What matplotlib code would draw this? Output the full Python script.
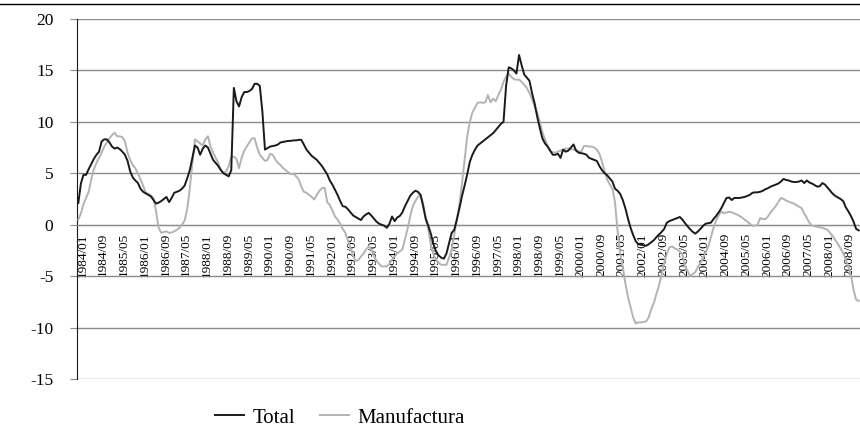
import numpy as np
import matplotlib.pyplot as plt
from matplotlib.lines import Line2D
from matplotlib.transforms import ScaledTranslation

plt.rcParams['font.family'] = ['Liberation Serif', 'DejaVu Serif']
plt.rcParams['axes.unicode_minus'] = False

# monthly series, 1984/01 .. 2009/02 (one row per year)
total = [
    2.1, 4.0, 4.85, 4.85, 5.4, 5.9, 6.4, 6.8, 7.1, 8.1, 8.3, 8.3,
    8.0, 7.6, 7.4, 7.5, 7.35, 7.1, 6.8, 6.2, 5.2, 4.6, 4.3, 4.05,
    3.5, 3.2, 3.05, 2.9, 2.75, 2.4, 2.05, 2.15, 2.3, 2.5, 2.7, 2.2,
    2.6, 3.1, 3.2, 3.3, 3.5, 3.8, 4.5, 5.3, 6.5, 7.7, 7.5, 6.8,
    7.4, 7.7, 7.5, 6.9, 6.3, 6.0, 5.7, 5.3, 5.0, 4.85, 4.7, 5.3,
    13.3, 12.0, 11.5, 12.4, 12.9, 12.9, 13.0, 13.2, 13.7, 13.7, 13.5, 11.0,
    7.3, 7.45, 7.6, 7.65, 7.7, 7.8, 8.0, 8.05, 8.1, 8.15, 8.15, 8.2,
    8.2, 8.25, 8.25, 7.8, 7.3, 7.0, 6.7, 6.5, 6.3, 6.0, 5.7, 5.3,
    4.9, 4.3, 3.9, 3.4, 2.9, 2.3, 1.8, 1.75, 1.5, 1.2, 0.9, 0.75,
    0.6, 0.45, 0.8, 1.0, 1.15, 0.9, 0.6, 0.3, 0.1, 0.0, -0.1, -0.3,
    0.1, 0.8, 0.35, 0.7, 0.85, 1.2, 1.8, 2.3, 2.8, 3.1, 3.3, 3.2,
    2.9, 1.8, 0.6, -0.1, -0.9, -1.9, -2.6, -3.0, -3.2, -3.3, -2.8, -1.8,
    -0.8, -0.5, 0.5, 1.6, 2.8, 3.8, 4.9, 6.1, 6.8, 7.3, 7.7, 7.9,
    8.1, 8.3, 8.5, 8.7, 8.9, 9.2, 9.5, 9.8, 10.0, 13.5, 15.3, 15.2,
    15.0, 14.7, 16.5, 15.5, 14.6, 14.3, 14.0, 12.8, 11.8, 10.5, 9.4, 8.4,
    7.9, 7.6, 7.2, 6.8, 6.8, 6.9, 6.5, 7.3, 7.1, 7.2, 7.5, 7.8,
    7.2, 7.0, 6.95, 6.9, 6.8, 6.5, 6.4, 6.3, 6.2, 5.7, 5.3, 5.0,
    4.8, 4.5, 4.2, 3.5, 3.3, 3.0, 2.4, 1.6, 0.6, -0.3, -1.0, -1.6,
    -1.9, -1.95, -2.0, -2.05, -1.9, -1.7, -1.5, -1.2, -0.95, -0.7, -0.4, 0.2,
    0.35, 0.45, 0.55, 0.65, 0.75, 0.5, 0.15, -0.15, -0.45, -0.7, -0.87, -0.65,
    -0.4, -0.1, 0.1, 0.15, 0.2, 0.55, 0.85, 1.2, 1.6, 2.1, 2.6, 2.65,
    2.4, 2.6, 2.6, 2.6, 2.65, 2.7, 2.8, 2.9, 3.1, 3.15, 3.15, 3.2,
    3.3, 3.45, 3.55, 3.7, 3.8, 3.9, 4.0, 4.2, 4.45, 4.35, 4.3, 4.2,
    4.15, 4.15, 4.2, 4.3, 4.05, 4.3, 4.1, 4.0, 3.85, 3.7, 3.75, 4.05,
    3.9, 3.6, 3.3, 3.0, 2.8, 2.65, 2.5, 2.3, 1.7, 1.3, 0.85, 0.3,
    -0.4, -0.55,
]

manufactura = [
    0.5, 1.1, 2.0, 2.6, 3.2, 4.4, 5.4, 6.0, 6.5, 7.0, 7.6, 8.0,
    8.4, 8.7, 8.95, 8.6, 8.6, 8.5, 8.1, 7.0, 6.3, 5.8, 5.5, 5.0,
    4.4, 3.8, 3.1, 3.0, 2.85, 2.6, 1.3, -0.3, -0.8, -0.7, -0.65, -0.8,
    -0.75, -0.65, -0.5, -0.3, 0.0, 0.4, 1.5, 3.5, 6.0, 8.3, 8.1, 7.9,
    7.7, 8.3, 8.6, 7.6, 7.0, 6.5, 6.0, 5.3, 5.0, 5.2, 5.7, 6.6,
    6.6, 6.4, 5.5, 6.5, 7.2, 7.6, 8.0, 8.4, 8.4, 7.5, 6.8, 6.5,
    6.2, 6.3, 6.9, 6.8, 6.35, 6.0, 5.8, 5.5, 5.3, 5.1, 4.9, 4.95,
    4.7, 4.4, 3.7, 3.2, 3.1, 2.9, 2.7, 2.45, 2.9, 3.3, 3.55, 3.6,
    2.2, 1.9, 1.4, 0.8, 0.5, 0.1, -0.4, -0.8, -1.5, -2.3, -3.0, -3.5,
    -3.45, -3.1, -2.8, -2.4, -2.1, -2.4, -3.0, -3.5, -3.8, -4.05, -4.05, -4.05,
    -3.8, -3.4, -3.1, -2.8, -2.6, -2.4, -1.4, -0.4, 0.8, 1.8, 2.3, 2.7,
    2.9, 2.1, 0.5, -0.5, -2.0, -2.9, -3.4, -3.7, -3.9, -3.9, -3.9, -3.2,
    -2.4, -1.0, 0.5, 2.0, 4.0, 6.3, 8.6, 10.0, 10.9, 11.4, 11.85, 11.9,
    11.85, 11.9, 12.6, 11.9, 12.25, 12.0, 12.6, 13.1, 13.9, 14.4, 14.7, 14.4,
    14.15, 14.1, 14.1, 13.9, 13.6, 13.3, 12.8, 12.2, 11.5, 10.9, 10.0, 9.0,
    8.3, 7.7, 7.2, 7.05, 7.0, 7.1, 7.2, 7.3, 7.4, 7.4, 7.35, 7.3,
    7.25, 7.15, 7.1, 7.65, 7.65, 7.6, 7.6, 7.5, 7.3, 6.9, 6.1, 5.2,
    4.4, 3.9, 3.5, 2.2, -0.6, -2.8, -4.1, -5.7, -7.0, -8.0, -9.0, -9.6,
    -9.5, -9.5, -9.45, -9.4, -9.0, -8.2, -7.6, -6.7, -5.9, -4.8, -3.7, -2.8,
    -2.2, -2.1, -2.3, -2.4, -2.6, -2.9, -4.0, -4.5, -5.0, -4.8, -4.6, -4.1,
    -3.7, -3.2, -2.7, -2.1, -1.2, -0.3, 0.4, 0.9, 1.3, 1.1, 1.2, 1.25,
    1.2, 1.1, 1.0, 0.85, 0.7, 0.5, 0.3, 0.1, -0.1, -0.1, 0.0, 0.65,
    0.55, 0.55, 0.8, 1.2, 1.5, 1.8, 2.2, 2.6, 2.5, 2.35, 2.25, 2.15,
    2.05, 1.9, 1.75, 1.6, 1.1, 0.65, 0.2, -0.1, -0.15, -0.2, -0.25, -0.3,
    -0.4, -0.5, -0.8, -1.1, -1.5, -1.9, -2.3, -2.75, -3.4, -4.05, -4.9, -6.3,
    -7.3, -7.4,
]

months = [f"{1984 + k // 12}/{k % 12 + 1:02d}" for k in range(len(total))]
tick_idx = list(range(0, len(total), 8))
tick_labels = [months[k] for k in tick_idx]

fig = plt.figure(figsize=(8.6, 4.29), dpi=100)
ax = fig.add_axes([77 / 860, 1 - 379 / 429, 1 - 77 / 860, 360 / 429])

x = np.arange(len(total))
ax.plot(x, manufactura, color='#b3b3b3', lw=1.4, label='Manufactura', zorder=3)
ax.plot(x, total, color='#1a1a1a', lw=1.4, label='Total', zorder=4)

ax.set_xlim(-0.5, len(total) - 0.5)
ax.set_ylim(-15, 20)
ax.set_yticks(range(-15, 21, 5))
ax.yaxis.grid(True, color='#8c8c8c', lw=1)
ax.set_axisbelow(True)

for s in ['top', 'right']:
    ax.spines[s].set_visible(False)
ax.spines['left'].set_color('#1a1a1a')
ax.spines['bottom'].set_position(('data', 0))
ax.spines['bottom'].set_color('#8c8c8c')

ax.set_xticks(tick_idx)
ax.set_xticklabels(tick_labels, rotation=90, fontsize=9.5)
ax.tick_params(axis='x', length=0, pad=6)
ax.tick_params(axis='y', length=5, color='#8c8c8c', labelsize=12.5, pad=12)
for lab in ax.get_xticklabels():
    lab.set_transform(lab.get_transform() + ScaledTranslation(3 / 72, 0, fig.dpi_scale_trans))

h, l = ax.get_legend_handles_labels()
fig.legend([h[1], h[0]], [l[1], l[0]], loc='center', bbox_to_anchor=(0.395, 0.026),
           ncol=2, frameon=False, fontsize=15, handlelength=1.4, handletextpad=0.4,
           columnspacing=1.2)

fig.add_artist(Line2D([0, 1], [1 - 4 / 429] * 2, color='black', lw=1))

fig.savefig('out.png', dpi=100)
